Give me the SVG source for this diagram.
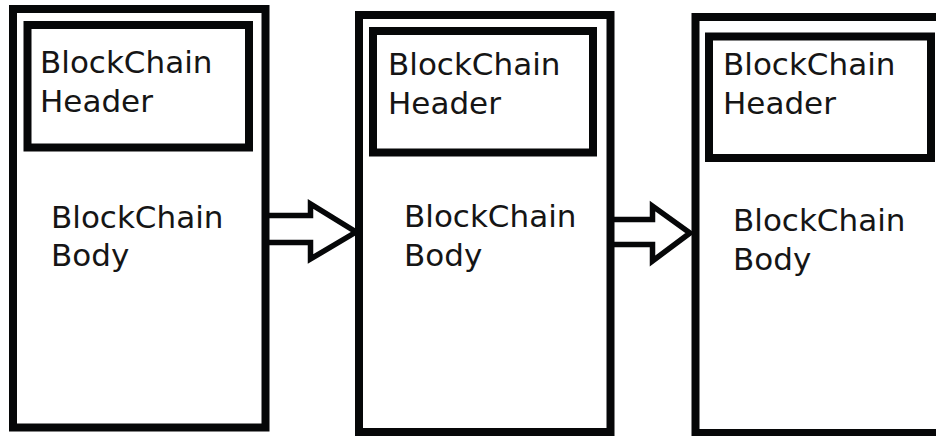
<svg xmlns="http://www.w3.org/2000/svg" width="936" height="436" viewBox="0 0 936 436">
  <style>
    .box { fill: none; stroke: #060708; stroke-width: 8; }
    .arrow { fill: #ffffff; stroke: #060708; stroke-width: 5.5; stroke-linejoin: miter; }
    .lbl { font-family: "DejaVu Sans", Verdana, sans-serif; font-size: 31px; fill: #151515; }
  </style>
  <rect x="0" y="0" width="936" height="436" fill="#ffffff"/>
  <g id="connectors">
    <path class="arrow" d="M265,215.5 H310.5 V204 L356,232 L310.5,259 V242.5 H265"/>
    <path class="arrow" d="M610,219.5 H652.5 V206 L690,233 L652.5,261 V244.5 H610"/>
  </g>
  <g id="block1">
    <rect class="box" x="13" y="9" width="252.5" height="418.5"/>
    <g id="block1-header">
      <rect class="box" x="27.5" y="25" width="221.5" height="122.5"/>
      <text class="lbl" x="40" y="73">BlockChain</text>
      <text class="lbl" x="40" y="112">Header</text>
    </g>
    <text class="lbl" x="51" y="228">BlockChain</text>
    <text class="lbl" x="51" y="266">Body</text>
  </g>
  <g id="block2">
    <rect class="box" x="359" y="15" width="251.5" height="417"/>
    <g id="block2-header">
      <rect class="box" x="373" y="31" width="220" height="121.5"/>
      <text class="lbl" x="388" y="75">BlockChain</text>
      <text class="lbl" x="388" y="114">Header</text>
    </g>
    <text class="lbl" x="404" y="227">BlockChain</text>
    <text class="lbl" x="404" y="266">Body</text>
  </g>
  <g id="block3">
    <rect class="box" x="695.5" y="17" width="260" height="416"/>
    <g id="block3-header">
      <rect class="box" x="709" y="36.5" width="222" height="121.5"/>
      <text class="lbl" x="723" y="75">BlockChain</text>
      <text class="lbl" x="723" y="114">Header</text>
    </g>
    <text class="lbl" x="733" y="231">BlockChain</text>
    <text class="lbl" x="733" y="270">Body</text>
  </g>
</svg>
